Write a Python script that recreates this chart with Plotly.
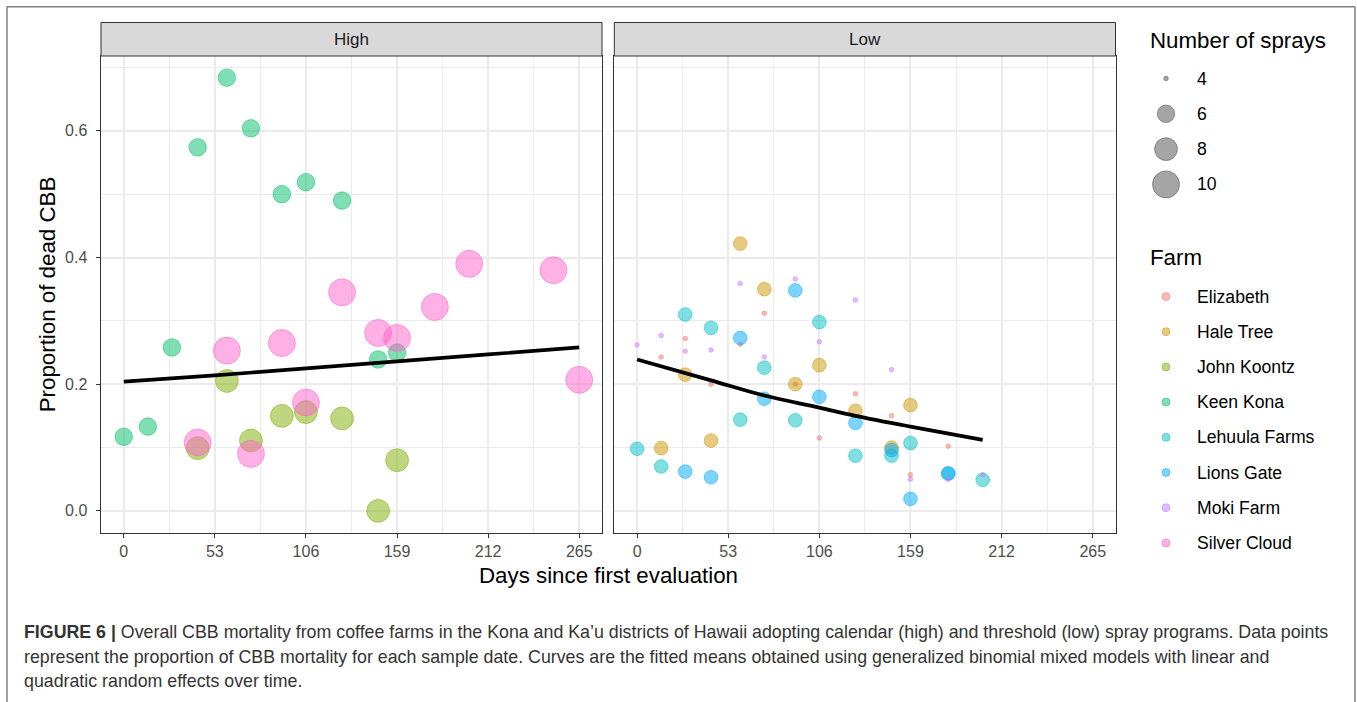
import numpy as np
import plotly.graph_objects as go

W, H = 1357, 702

# ---------------- data ----------------
farms = ["Elizabeth", "Hale Tree", "John Koontz", "Keen Kona",
         "Lehuula Farms", "Lions Gate", "Moki Farm", "Silver Cloud"]
farm_colors = ["#F8766D", "#CD9600", "#7CAE00", "#00BE67",
               "#00BFC4", "#00A9FF", "#C77CFF", "#FF61CC"]
farm_program = ["Low", "Low", "High", "High", "Low", "Low", "Low", "High"]
farm_sprays = [4, 5, 8, 6, 5, 5, 4, 10]

elizabeth_days = [14, 28, 43, 60, 74, 92, 106, 127, 148, 159, 181]
elizabeth_prop = [0.243, 0.272, 0.200, 0.263, 0.312, 0.200, 0.115, 0.185, 0.150, 0.057, 0.102]

hale_days = [14, 28, 43, 60, 74, 92, 106, 127, 148, 159]
hale_prop = [0.099, 0.215, 0.111, 0.422, 0.350, 0.200, 0.230, 0.158, 0.100, 0.167]

koontz_days = [43, 60, 74, 92, 106, 127, 148, 159]
koontz_prop = [0.099, 0.205, 0.111, 0.150, 0.156, 0.146, 0.000, 0.080]

keen_days = [0, 14, 28, 43, 60, 74, 92, 106, 127, 148, 159]
keen_prop = [0.117, 0.133, 0.258, 0.574, 0.684, 0.604, 0.500, 0.519, 0.490, 0.239, 0.250]

lehuula_days = [0, 14, 28, 43, 60, 74, 92, 106, 127, 148, 159, 181, 201]
lehuula_prop = [0.098, 0.070, 0.310, 0.289, 0.144, 0.226, 0.143, 0.298, 0.087, 0.087, 0.107, 0.059, 0.049]

lions_days = [28, 43, 60, 74, 92, 106, 127, 148, 159, 181]
lions_prop = [0.062, 0.053, 0.273, 0.177, 0.348, 0.180, 0.139, 0.096, 0.019, 0.059]

moki_days = [0, 14, 28, 43, 60, 74, 92, 106, 127, 148, 159, 181, 201]
moki_prop = [0.262, 0.277, 0.252, 0.254, 0.359, 0.243, 0.366, 0.267, 0.333, 0.223, 0.050, 0.050, 0.057]

silver_days = [43, 60, 74, 92, 106, 127, 148, 159, 181, 201, 250, 265]
silver_prop = [0.108, 0.253, 0.090, 0.265, 0.171, 0.345, 0.281, 0.273, 0.322, 0.390, 0.380, 0.207]

farm_days = [elizabeth_days, hale_days, koontz_days, keen_days,
             lehuula_days, lions_days, moki_days, silver_days]
farm_prop = [elizabeth_prop, hale_prop, koontz_prop, keen_prop,
             lehuula_prop, lions_prop, moki_prop, silver_prop]

high_fit_days = [0, 53, 106, 159, 212, 265]
high_fit_prop = [0.204, 0.214, 0.225, 0.236, 0.247, 0.258]
low_fit_days = [0, 43, 74, 106, 127, 159, 201]
low_fit_prop = [0.239, 0.206, 0.182, 0.163, 0.150, 0.133, 0.112]

x_ticks = [0, 53, 106, 159, 212, 265]
y_ticks = [0.0, 0.2, 0.4, 0.6]
size_breaks = [4, 6, 8, 10]
panels = ["High", "Low"]

caption_lines = [
    "<b>FIGURE 6 |</b> Overall CBB mortality from coffee farms in the Kona and Ka\u2019u districts of Hawaii adopting calendar (high) and threshold (low) spray programs. Data points",
    "represent the proportion of CBB mortality for each sample date. Curves are the fitted means obtained using generalized binomial mixed models with linear and",
    "quadratic random effects over time.",
]

# ---------------- helpers ----------------
FONT = "Liberation Sans, Arial, Helvetica, sans-serif"


def px(xp):
    return xp / W


def py(yp):
    return 1 - yp / H


def diam(v):
    # ggplot-like area scale: size range 1..6 over the spray range 4..10
    return 4.5 * (1 + 5 * np.sqrt((v - 4) / 6.0))


def rgba(hexc, a):
    h = hexc.lstrip("#")
    r, g, b = int(h[0:2], 16), int(h[2:4], 16), int(h[4:6], 16)
    return f"rgba({r},{g},{b},{a})"


ALPHA = 0.5

panel_x = {"High": (101, 602), "Low": (614.3, 1115.5)}
panel_top, panel_bot = 56, 532.5
strip_top = 22.5

fig = go.Figure()

# points
for f, c, prog, s, d, p in zip(farms, farm_colors, farm_program, farm_sprays, farm_days, farm_prop):
    ax = "x" if prog == "High" else "x2"
    fig.add_trace(go.Scatter(
        x=d, y=p, mode="markers", xaxis=ax, yaxis="y" if prog == "High" else "y2",
        marker=dict(size=diam(s), color=rgba(c, ALPHA),
                    line=dict(color=rgba(c, ALPHA), width=1)),
        showlegend=False, hoverinfo="skip", cliponaxis=False))

# fitted curves
fig.add_trace(go.Scatter(x=high_fit_days, y=high_fit_prop, mode="lines", xaxis="x", yaxis="y",
                         line=dict(color="black", width=3.7, shape="spline"), showlegend=False))
fig.add_trace(go.Scatter(x=low_fit_days, y=low_fit_prop, mode="lines", xaxis="x2", yaxis="y2",
                         line=dict(color="black", width=3.7, shape="spline"), showlegend=False))

# ---------------- manual legend on a hidden axis (pixel units) ----------------
size_y0, size_dy = 78.5, 35.3
farm_y0, farm_dy = 296.5, 35.2
key_x, lab_x, title_x = 1166, 1195, 1148

fig.add_trace(go.Scatter(
    x=[key_x] * len(size_breaks), y=[size_y0 + i * size_dy for i in range(len(size_breaks))],
    mode="markers", xaxis="x3", yaxis="y3",
    marker=dict(size=[diam(v) for v in size_breaks], color="rgba(0,0,0,0.5)",
                line=dict(color="rgba(0,0,0,0.5)", width=1)),
    showlegend=False, hoverinfo="skip", cliponaxis=False))
fig.add_trace(go.Scatter(
    x=[key_x] * len(farms), y=[farm_y0 + i * farm_dy for i in range(len(farms))],
    mode="markers", xaxis="x3", yaxis="y3",
    marker=dict(size=8, color=[rgba(c, ALPHA) for c in farm_colors],
                line=dict(color=[rgba(c, ALPHA) for c in farm_colors], width=1)),
    showlegend=False, hoverinfo="skip", cliponaxis=False))

annotations = []
annotations.append(dict(x=px(title_x), y=py(40.7), xref="paper", yref="paper", text="Number of sprays",
                        showarrow=False, xanchor="left", yanchor="middle",
                        font=dict(family=FONT, size=22.3, color="black")))
annotations.append(dict(x=px(title_x), y=py(257.6), xref="paper", yref="paper", text="Farm",
                        showarrow=False, xanchor="left", yanchor="middle",
                        font=dict(family=FONT, size=22.3, color="black")))
for i, v in enumerate(size_breaks):
    annotations.append(dict(x=px(lab_x), y=py(size_y0 + i * size_dy), xref="paper", yref="paper",
                            text=str(v), showarrow=False, xanchor="left", yanchor="middle",
                            font=dict(family=FONT, size=17.6, color="black")))
for i, f in enumerate(farms):
    annotations.append(dict(x=px(lab_x), y=py(farm_y0 + i * farm_dy), xref="paper", yref="paper",
                            text=f, showarrow=False, xanchor="left", yanchor="middle",
                            font=dict(family=FONT, size=17.6, color="black")))

# axis titles
annotations.append(dict(x=px((101 + 1115.5) / 2), y=py(575), xref="paper", yref="paper",
                        text="Days since first evaluation", showarrow=False,
                        xanchor="center", yanchor="middle",
                        font=dict(family=FONT, size=22.3, color="black")))
annotations.append(dict(x=px(47), y=py((panel_top + panel_bot) / 2), xref="paper", yref="paper",
                        text="Proportion of dead CBB", showarrow=False, textangle=-90,
                        xanchor="center", yanchor="middle",
                        font=dict(family=FONT, size=22.3, color="black")))

# strips
shapes = []
for name in panels:
    x0, x1 = panel_x[name]
    shapes.append(dict(type="rect", xref="paper", yref="paper", x0=px(x0), x1=px(x1),
                       y0=py(panel_top), y1=py(strip_top), fillcolor="#D9D9D9",
                       line=dict(color="#333333", width=1), layer="above"))
    annotations.append(dict(x=px((x0 + x1) / 2), y=py((strip_top + panel_top) / 2), xref="paper",
                            yref="paper", text=name, showarrow=False, xanchor="center",
                            yanchor="middle", font=dict(family=FONT, size=17, color="#1A1A1A")))

# caption
cap_y = [632, 656.5, 681]
for t, yy in zip(caption_lines, cap_y):
    annotations.append(dict(x=px(22), y=py(yy), xref="paper", yref="paper", text=t,
                            showarrow=False, xanchor="left", yanchor="middle",
                            font=dict(family=FONT, size=17.8, color="#333333")))

# outer frame (open at bottom)
frame_col = "#7F7F7F"
shapes.append(dict(type="line", xref="paper", yref="paper", x0=px(7), x1=px(1355), y0=py(6.7), y1=py(6.7),
                   line=dict(color=frame_col, width=1.5)))
shapes.append(dict(type="line", xref="paper", yref="paper", x0=px(7), x1=px(7), y0=py(6.7), y1=py(703),
                   line=dict(color=frame_col, width=1.5)))
shapes.append(dict(type="line", xref="paper", yref="paper", x0=px(1355), x1=px(1355), y0=py(6.7), y1=py(703),
                   line=dict(color=frame_col, width=1.5)))

# ---------------- axes ----------------
y_range = [-0.0342, 0.7182]
x_range = [-13.25, 278.25]

common_x = dict(range=x_range, tickmode="array", tickvals=x_ticks, ticktext=[str(t) for t in x_ticks],
                ticks="outside", ticklen=4.5, tickwidth=1, tickcolor="#333333",
                showgrid=True, gridcolor="#EBEBEB", gridwidth=1.7,
                minor=dict(tickmode="array", tickvals=[26.5, 79.5, 132.5, 185.5, 238.5],
                           showgrid=True, gridcolor="#EBEBEB", gridwidth=1.0, ticks=""),
                showline=True, linecolor="#333333", linewidth=1, mirror=True,
                zeroline=False, tickfont=dict(family=FONT, size=16, color="#4D4D4D"),
                fixedrange=True)
common_y = dict(range=y_range, tickmode="array", tickvals=y_ticks,
                ticktext=[f"{t:.1f}" for t in y_ticks],
                showgrid=True, gridcolor="#EBEBEB", gridwidth=1.7,
                minor=dict(tickmode="array", tickvals=[0.1, 0.3, 0.5, 0.7],
                           showgrid=True, gridcolor="#EBEBEB", gridwidth=1.0, ticks=""),
                showline=True, linecolor="#333333", linewidth=1, mirror=True,
                zeroline=False, tickfont=dict(family=FONT, size=16, color="#4D4D4D"),
                domain=[py(panel_bot), py(panel_top)], fixedrange=True)

fig.update_layout(
    width=W, height=H,
    margin=dict(l=0, r=0, t=0, b=0, autoexpand=False),
    paper_bgcolor="white", plot_bgcolor="white",
    font=dict(family=FONT),
    xaxis=dict(common_x, domain=[px(101), px(602)], anchor="y"),
    yaxis=dict(common_y, anchor="x", ticks="outside", ticklen=4.5, tickwidth=1,
               tickcolor="#333333", ticklabelstandoff=5),
    xaxis2=dict(common_x, domain=[px(614.3), px(1115.5)], anchor="y2"),
    yaxis2=dict(common_y, anchor="x2", showticklabels=False, ticks=""),
    xaxis3=dict(range=[1130, 1357], domain=[px(1130), 1.0], visible=False, fixedrange=True, anchor="y3"),
    yaxis3=dict(range=[H, 0], domain=[0, 1], visible=False, fixedrange=True, anchor="x3"),
    shapes=shapes,
    annotations=annotations,
    hovermode=False,
)

fig.write_html("out.html", config={"displayModeBar": False},
               post_script="document.body.style.margin='0px';document.body.style.overflow='hidden';")
